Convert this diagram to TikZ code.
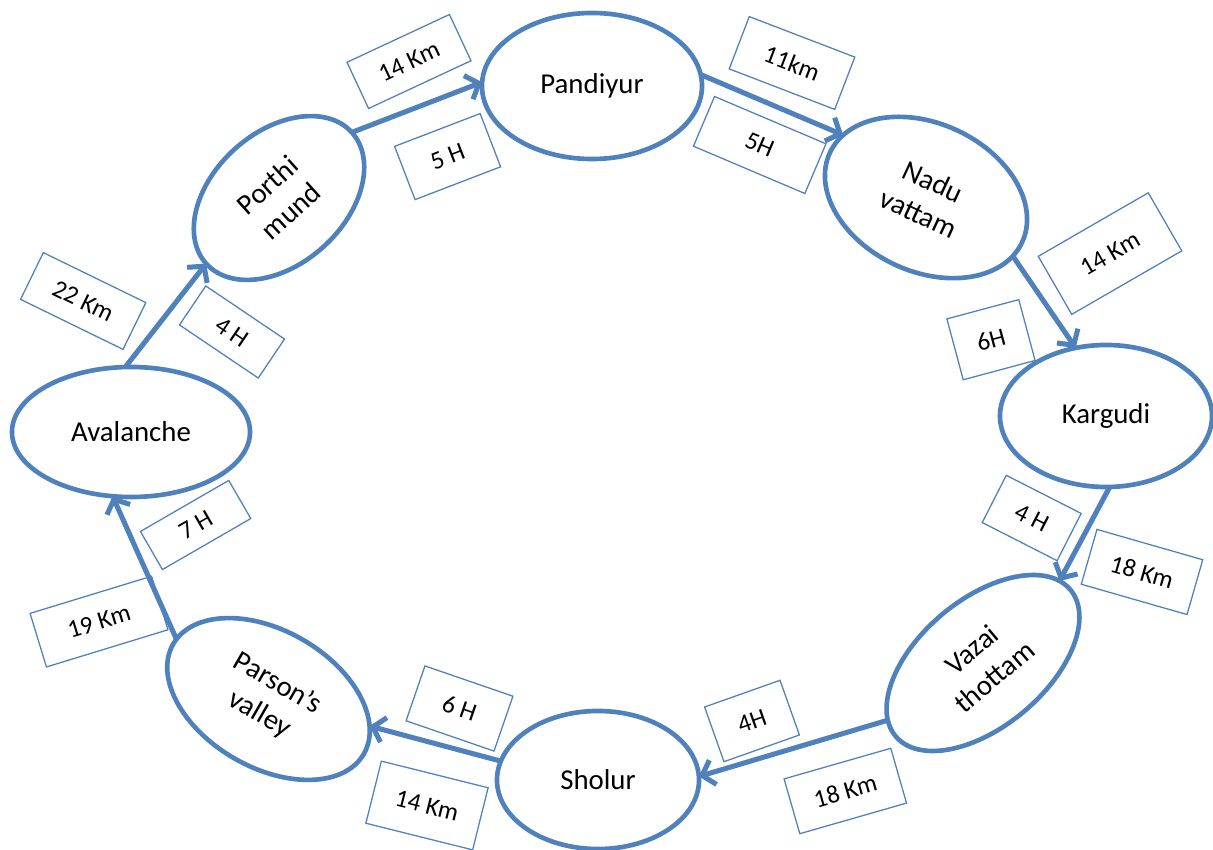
\documentclass[tikz,border=0pt]{standalone}
\usepackage{fontspec}
\setmainfont{Carlito}
\usepackage{tikz}
\usetikzlibrary{shapes.geometric,arrows.meta}
\definecolor{routeblue}{HTML}{4F81BD}

\begin{document}
\begin{tikzpicture}[x=0.025cm,y=0.025cm,
    place/.style={ellipse,draw=routeblue,line width=3.3pt,fill=white,inner sep=0pt,outer sep=0pt,align=center,font=\fontsize{20.5}{25}\selectfont},
    dist/.style={rectangle,draw=routeblue,line width=0.9pt,fill=white,inner sep=0pt,font=\fontsize{18}{21}\selectfont},
    route/.style={draw=routeblue,line width=3.6pt,-{Straight Barb[length=8pt,width=18pt]}}]
                      \useasboundingbox (0,0) rectangle (1213,850);
                      \node[place,minimum width=5.5cm,minimum height=3.65cm] (pandiyur) at (592,764) {Pandiyur};
                      \node[place,minimum width=4.9cm,minimum height=3.3cm,rotate=42] (porthi) at (279,652) {Porthi\\mund};
                      \node[place,minimum width=5.3cm,minimum height=3.7cm,rotate=-25] (nadu) at (926,652.5) {Nadu\\vattam};
                      \node[place,minimum width=5.3cm,minimum height=3.55cm] (kargudi) at (1106,434) {Kargudi};
                      \node[place,minimum width=5.7cm,minimum height=3.175cm,rotate=40] (vazai) at (983,187) {Vazai\\thottam};
                      \node[place,minimum width=5.05cm,minimum height=3.45cm] (sholur) at (598,70) {Sholur};
                      \node[place,minimum width=5.5cm,minimum height=3.425cm,rotate=-30] (parson) at (268.5,151) {Parson’s\\valley};
                      \node[place,minimum width=5.95cm,minimum height=3.25cm] (avalanche) at (131,418) {Avalanche};
                      \node[dist,minimum width=2.825cm,minimum height=1.275cm,rotate=25] (km1) at (409,788.5) {14 Km};
                      \node[dist,minimum width=2.29cm,minimum height=1.425cm,rotate=21] (h1) at (447.6,693.4) {5 H};
                      \node[dist,minimum width=2.825cm,minimum height=1.4cm,rotate=-21] (km2) at (792,787) {11km};
                      \node[dist,minimum width=3.025cm,minimum height=1.35cm,rotate=-23] (h2) at (759.7,705) {5H};
                      \node[dist,minimum width=3.175cm,minimum height=1.675cm,rotate=30] (km3) at (1110,596.4) {14 Km};
                      \node[dist,minimum width=1.86cm,minimum height=1.575cm,rotate=15] (h3) at (991,510.3) {6H};
                      \node[dist,minimum width=2.1cm,minimum height=1.325cm,rotate=-27] (h4) at (1031.7,332) {4 H};
                      \node[dist,minimum width=2.75cm,minimum height=1.425cm,rotate=-16] (km4) at (1142,278) {18 Km};
                      \node[dist,minimum width=2cm,minimum height=1.45cm,rotate=19.5] (h5) at (752,129) {4H};
                      \node[dist,minimum width=2.775cm,minimum height=1.425cm,rotate=16] (km5) at (845.3,59) {18 Km};
                      \node[dist,minimum width=2.325cm,minimum height=1.45cm,rotate=-19] (h6) at (459.5,141.5) {6 H};
                      \node[dist,minimum width=2.75cm,minimum height=1.6cm,rotate=-14] (km6) at (427,44.5) {14 Km};
                      \node[dist,minimum width=2.55cm,minimum height=1.1cm,rotate=30] (h7) at (195.6,325) {7 H};
                      \node[dist,minimum width=3.175cm,minimum height=1.4cm,rotate=17] (km7) at (99,228.4) {19 Km};
                      \node[dist,minimum width=2.85cm,minimum height=1.3cm,rotate=-26] (km8) at (83.2,549) {22 Km};
                      \node[dist,minimum width=2.375cm,minimum height=1.175cm,rotate=-34] (h8) at (232,518) {4 H};
                      \draw[route] (porthi.0) -- (pandiyur.178);
                      \draw[route] (pandiyur.6) -- (nadu.168);
                      \draw[route] (nadu.-9) -- (kargudi.114);
                      \draw[route] (kargudi.-87) -- (vazai.7);
                      \draw[route] (vazai.171) -- (sholur.2);
                      \draw[route] (sholur.169) -- (parson.15);
                      \draw[route] (parson.177) -- (avalanche.-106);
                      \draw[route] (avalanche.95) -- (porthi.180);
                  \end{tikzpicture}
\end{document}
